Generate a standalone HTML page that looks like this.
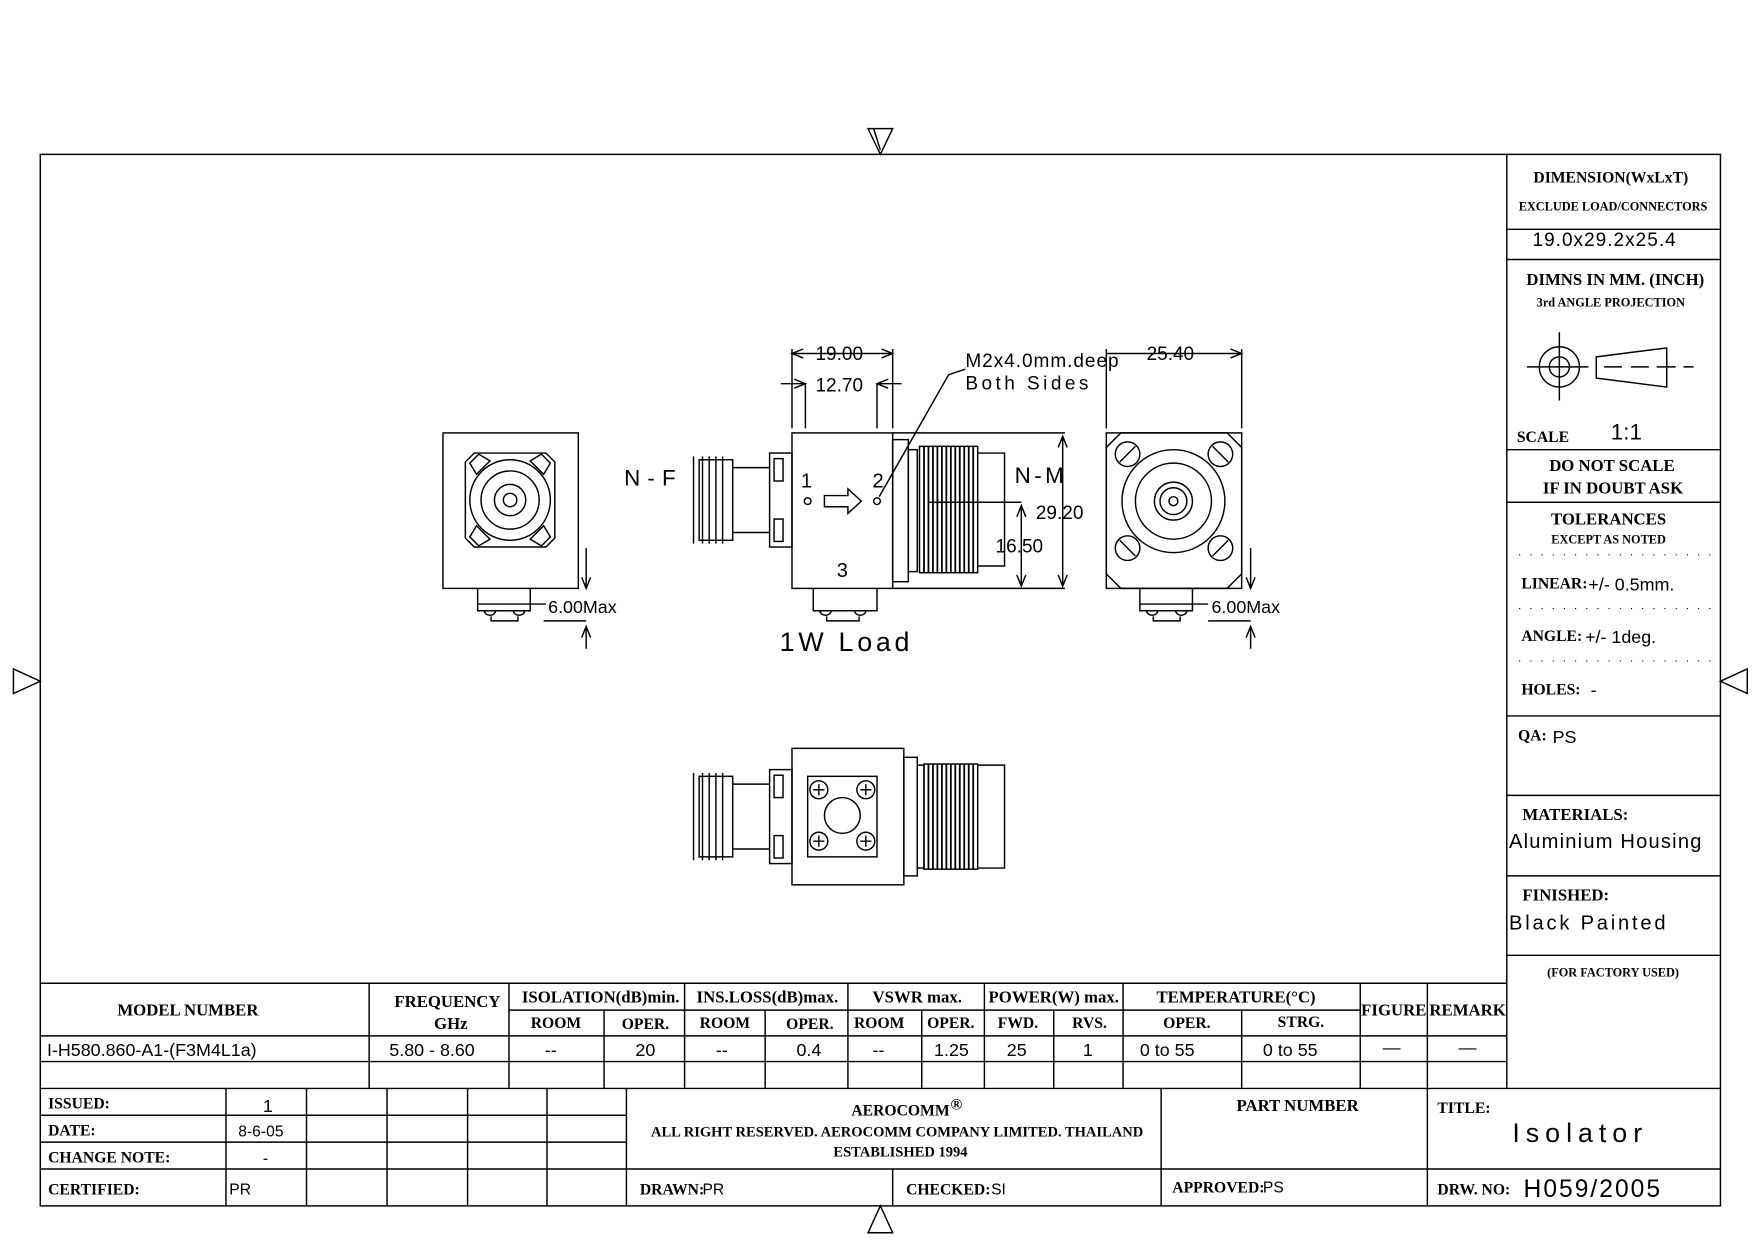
<!DOCTYPE html>
<html><head><meta charset="utf-8"><style>
html,body{margin:0;padding:0;background:#fff;}
svg{display:block;}
.s{font-family:"Liberation Serif",serif;font-weight:bold;fill:#000;}
.n{font-family:"Liberation Sans",sans-serif;fill:#000;}
</style></head><body>
<svg width="1754" height="1240" viewBox="0 0 1568 1108.5" preserveAspectRatio="none" xmlns="http://www.w3.org/2000/svg">
<g fill="none" stroke="#000" stroke-width="1.3">
<rect x="36" y="138" width="1502" height="940"/>
<path d="M776 115 L798 115 L787 138 Z M781 115 L787 134"/>
<path d="M776 1102 L798 1102 L787 1078 Z"/>
<path d="M12 598 L12 620 L36 609 Z"/>
<path d="M1562 598 L1562 620 L1538 609 Z"/>
<line x1="1347" y1="138" x2="1347" y2="973"/>
<line x1="1347" y1="205" x2="1538" y2="205"/>
<line x1="1347" y1="232" x2="1538" y2="232"/>
<line x1="1347" y1="402" x2="1538" y2="402"/>
<line x1="1347" y1="449" x2="1538" y2="449"/>
<line x1="1347" y1="640" x2="1538" y2="640"/>
<line x1="1347" y1="711" x2="1538" y2="711"/>
<line x1="1347" y1="783" x2="1538" y2="783"/>
<line x1="1347" y1="854" x2="1538" y2="854"/>
<g stroke-dasharray="1 9" stroke-width="1"><line x1="1358" y1="496" x2="1530" y2="496"/><line x1="1358" y1="544" x2="1530" y2="544"/><line x1="1358" y1="591" x2="1530" y2="591"/></g>
<circle cx="1394" cy="328" r="18"/><circle cx="1394" cy="328" r="9"/>
<path d="M1365 328 H1420 M1394 297 V358 M1388 328 H1400 M1394 322 V334"/>
<path d="M1427 319 L1490 311 L1490 346 L1427 338 Z"/>
<path d="M1434 328 H1450 M1458 328 H1474 M1481 328 H1498 M1505 328 H1514"/>
<line x1="36" y1="879" x2="1347" y2="879"/>
<line x1="455" y1="903" x2="1216" y2="903"/>
<line x1="36" y1="926" x2="1347" y2="926"/>
<line x1="36" y1="949" x2="1347" y2="949"/>
<line x1="36" y1="973" x2="1538" y2="973"/>
<path d="M330 879V973 M455 879V973 M612 879V973 M758 879V973 M880 879V973 M1004 879V973 M1216 879V973 M1276 879V973"/>
<path d="M540 903V973 M684 903V973 M824 903V973 M942 903V973 M1110 903V973"/>
<line x1="36" y1="997" x2="560" y2="997"/>
<line x1="36" y1="1021" x2="560" y2="1021"/>
<line x1="36" y1="1045" x2="1538" y2="1045"/>
<path d="M202 973V1078 M274 973V1078 M346 973V1078 M418 973V1078 M489 973V1078 M560 973V1078 M798 1045V1078 M1038 973V1078 M1276 973V1078"/>

<rect x="396" y="387" width="121" height="139"/>
<path d="M424 405 H488 L496 413 V481 L488 489 H424 L416 481 V413 Z"/>
<circle cx="456" cy="447" r="36"/><circle cx="456" cy="447" r="26"/><circle cx="456" cy="447" r="14"/><circle cx="456" cy="447" r="6"/>
<path d="M420 414 l8 -8 l10 6 l-12 12 Z M492 414 l-8 -8 l-10 6 l12 12 Z M420 480 l8 8 l10 -6 l-12 -12 Z M492 480 l-8 8 l-10 -6 l12 -12 Z"/>
<path d="M427 526 V546 H474 V526 M427 540 H488 M433 546 a5 4 0 0 0 10 0 M459 546 a5 4 0 0 0 10 0 M439 551 V555 H463 V551"/>
<path d="M524 490 V526 M520 516 L524 526 L528 516 M486 555 H524 M524 560 V580 M520 570 L524 560 L528 570"/>
<rect x="708" y="387" width="90" height="139"/>
<path d="M798 387 H952 M798 526 H952 M950 390 V524 M946 400 L950 390 L954 400 M946 514 L950 524 L954 514"/>
<path d="M830 449 H913 M913 452 V524 M909 462 L913 452 L917 462 M909 514 L913 524 L917 514"/>
<rect x="798" y="393" width="14" height="127"/><rect x="812" y="402" width="8" height="109"/>
<rect x="822" y="399" width="52" height="113"/>
<g stroke-width="1.6"><path d="M826 399V512 M830 399V512 M834 399V512 M838 399V512 M842 399V512 M846 399V512 M850 399V512 M854 399V512 M858 399V512 M862 399V512 M866 399V512 M870 399V512"/></g>
<path d="M874 405 H898 V506 H874"/>
<rect x="688" y="405" width="20" height="84"/><rect x="692" y="410" width="8" height="20"/><rect x="692" y="464" width="8" height="20"/>
<path d="M655 418 H688 M655 476 H688"/>
<rect x="625" y="411" width="30" height="72"/>
<path d="M620 408 V486 M628 408 V486 M634 408 V486 M640 408 V486 M646 408 V486"/>
<circle cx="722" cy="448" r="3"/><circle cx="784" cy="448" r="3"/>
<path d="M737 443 H758 V437 L770 448 L758 459 V453 H737 Z"/>
<path d="M727 526 V546 H784 V526 M733 546 a5 4 0 0 0 10 0 M764 546 a5 4 0 0 0 10 0 M739 551 V555 H768 V551"/>
<path d="M708 383 V312 M798 383 V312 M708 316 H798 M718 312 L708 316 L718 320 M788 312 L798 316 L788 320"/>
<path d="M720 383 V343 M784 383 V343 M698 343 H720 M784 343 H806 M710 339 L720 343 L710 347 M794 339 L784 343 L794 347"/>
<path d="M863 330 L848 335 L786 444"/>
<rect x="989" y="387" width="121" height="139"/>
<path d="M1002 387 H1097 L1110 400 V513 L1097 526 H1002 L989 513 V400 Z"/>
<circle cx="1049" cy="448" r="46"/><circle cx="1049" cy="448" r="34"/><circle cx="1049" cy="448" r="17"/><circle cx="1049" cy="448" r="12"/><circle cx="1049" cy="448" r="4"/>
<circle cx="1008" cy="406" r="11"/><circle cx="1091" cy="406" r="11"/><circle cx="1008" cy="490" r="11"/><circle cx="1091" cy="490" r="11"/>
<path d="M1001 413 L1015 399 M1084 399 L1098 413 M1001 483 L1015 497 M1084 497 L1098 483"/>
<path d="M989 383 V312 M1110 383 V312 M1002 316 H1110 M1100 312 L1110 316 L1100 320 M989 316 L1002 316"/>
<path d="M1019 526 V546 H1066 V526 M1019 540 H1080 M1025 546 a5 4 0 0 0 10 0 M1051 546 a5 4 0 0 0 10 0 M1031 551 V555 H1055 V551"/>
<path d="M1118 490 V526 M1114 516 L1118 526 L1122 516 M1080 555 H1118 M1118 560 V580 M1114 570 L1118 560 L1122 570"/>
<rect x="708" y="669" width="100" height="122"/>
<rect x="722" y="694" width="62" height="72"/>
<circle cx="753" cy="729" r="16"/>
<circle cx="732" cy="706" r="8"/><circle cx="774" cy="706" r="8"/><circle cx="732" cy="752" r="8"/><circle cx="774" cy="752" r="8"/>
<path d="M727 706 H737 M732 701 V711 M769 706 H779 M774 701 V711 M727 752 H737 M732 747 V757 M769 752 H779 M774 747 V757"/>
<rect x="808" y="677" width="12" height="106"/><rect x="820" y="684" width="6" height="92"/>
<rect x="826" y="683" width="48" height="94"/>
<g stroke-width="1.6"><path d="M830 683V777 M834 683V777 M838 683V777 M842 683V777 M846 683V777 M850 683V777 M854 683V777 M858 683V777 M862 683V777 M866 683V777 M870 683V777"/></g>
<path d="M874 684 H898 V776 H874"/>
<rect x="688" y="688" width="20" height="84"/><rect x="692" y="693" width="8" height="20"/><rect x="692" y="747" width="8" height="20"/>
<path d="M655 701 H688 M655 759 H688"/>
<rect x="625" y="694" width="30" height="72"/>
<path d="M620 691 V769 M628 691 V769 M634 691 V769 M640 691 V769 M646 691 V769"/>
</g>

<g class="n">
<text x="558" y="434" font-size="20" textLength="46">N-F</text>
<text x="907" y="432" font-size="20" textLength="44">N-M</text>
<text x="716" y="436" font-size="18">1</text>
<text x="780" y="436" font-size="18">2</text>
<text x="748" y="516" font-size="18">3</text>
<text x="926" y="464" font-size="17">29.20</text>
<text x="890" y="494" font-size="17">16.50</text>
<text x="729" y="322" font-size="17">19.00</text>
<text x="729" y="350" font-size="17">12.70</text>
<text x="1025" y="322" font-size="17">25.40</text>
<text x="863" y="328" font-size="17" textLength="137">M2x4.0mm.deep</text>
<text x="863" y="348" font-size="17" textLength="110">Both Sides</text>
<text x="490" y="548" font-size="16">6.00Max</text>
<text x="1083" y="548" font-size="16">6.00Max</text>
<text x="697" y="582" font-size="24" textLength="116">1W Load</text>
<text x="1370" y="220" font-size="17" textLength="128">19.0x29.2x25.4</text>
<text x="1440" y="393" font-size="20">1:1</text>
<text x="1420" y="528" font-size="16">+/-  0.5mm.</text>
<text x="1417" y="575" font-size="16">+/-  1deg.</text>
<text x="1422" y="622" font-size="16">-</text>
<text x="1388" y="664" font-size="16">PS</text>
<text x="1349" y="758" font-size="18" textLength="172">Aluminium Housing</text>
<text x="1349" y="831" font-size="18" textLength="140">Black Painted</text>
<text x="42" y="944" font-size="16">I-H580.860-A1-(F3M4L1a)</text>
<text x="348" y="944" font-size="16">5.80 - 8.60</text>
<text x="487" y="944" font-size="16">--</text>
<text x="568" y="944" font-size="16">20</text>
<text x="640" y="944" font-size="16">--</text>
<text x="712" y="944" font-size="16">0.4</text>
<text x="780" y="944" font-size="16">--</text>
<text x="835" y="944" font-size="16">1.25</text>
<text x="900" y="944" font-size="16">25</text>
<text x="968" y="944" font-size="16">1</text>
<text x="1019" y="944" font-size="16">0 to 55</text>
<text x="1129" y="944" font-size="16">0 to 55</text>
<text x="1236" y="942" font-size="16">—</text>
<text x="1304" y="942" font-size="16">—</text>
<text x="235" y="994" font-size="16">1</text>
<text x="213" y="1016" font-size="14">8-6-05</text>
<text x="235" y="1040" font-size="14">-</text>
<text x="205" y="1068" font-size="14">PR</text>
<text x="628" y="1068" font-size="14">PR</text>
<text x="886" y="1068" font-size="14">SI</text>
<text x="1129" y="1066" font-size="14">PS</text>
<text x="1352" y="1021" font-size="24" textLength="116">Isolator</text>
<text x="1362" y="1070" font-size="22" textLength="122">H059/2005</text>
</g>

<g class="s">
<text x="1440" y="163" font-size="14" text-anchor="middle">DIMENSION(WxLxT)</text>
<text x="1442" y="188" font-size="11" text-anchor="middle">EXCLUDE LOAD/CONNECTORS</text>
<text x="1444" y="255" font-size="15" text-anchor="middle">DIMNS  IN  MM.  (INCH)</text>
<text x="1440" y="274" font-size="11" text-anchor="middle">3rd  ANGLE  PROJECTION</text>
<text x="1356" y="395" font-size="14">SCALE</text>
<text x="1441" y="421" font-size="15" text-anchor="middle">DO  NOT  SCALE</text>
<text x="1442" y="441" font-size="15" text-anchor="middle">IF  IN  DOUBT  ASK</text>
<text x="1438" y="469" font-size="15" text-anchor="middle">TOLERANCES</text>
<text x="1438" y="486" font-size="11" text-anchor="middle">EXCEPT  AS  NOTED</text>
<text x="1360" y="526" font-size="14">LINEAR:</text>
<text x="1360" y="573" font-size="14">ANGLE:</text>
<text x="1360" y="621" font-size="14">HOLES:</text>
<text x="1357" y="662" font-size="14">QA:</text>
<text x="1361" y="733" font-size="15">MATERIALS:</text>
<text x="1361" y="805" font-size="15">FINISHED:</text>
<text x="1442" y="873" font-size="11" text-anchor="middle">(FOR  FACTORY  USED)</text>
<text x="168" y="908" font-size="15" text-anchor="middle">MODEL  NUMBER</text>
<text x="400" y="900" font-size="15" text-anchor="middle">FREQUENCY</text>
<text x="403" y="920" font-size="15" text-anchor="middle">GHz</text>
<text x="537" y="896" font-size="15" text-anchor="middle">ISOLATION(dB)min.</text>
<text x="686" y="896" font-size="15" text-anchor="middle">INS.LOSS(dB)max.</text>
<text x="820" y="896" font-size="15" text-anchor="middle">VSWR  max.</text>
<text x="942" y="896" font-size="15" text-anchor="middle">POWER(W)  max.</text>
<text x="1105" y="896" font-size="15" text-anchor="middle">TEMPERATURE(°C)</text>
<text x="1246" y="908" font-size="15" text-anchor="middle">FIGURE</text>
<text x="1312" y="908" font-size="15" text-anchor="middle">REMARK</text>
<text x="497" y="919" font-size="14" text-anchor="middle">ROOM</text>
<text x="577" y="920" font-size="14" text-anchor="middle">OPER.</text>
<text x="648" y="919" font-size="14" text-anchor="middle">ROOM</text>
<text x="724" y="920" font-size="14" text-anchor="middle">OPER.</text>
<text x="786" y="919" font-size="14" text-anchor="middle">ROOM</text>
<text x="850" y="919" font-size="14" text-anchor="middle">OPER.</text>
<text x="910" y="919" font-size="14" text-anchor="middle">FWD.</text>
<text x="974" y="919" font-size="14" text-anchor="middle">RVS.</text>
<text x="1061" y="919" font-size="14" text-anchor="middle">OPER.</text>
<text x="1163" y="918" font-size="14" text-anchor="middle">STRG.</text>
<text x="43" y="991" font-size="14">ISSUED:</text>
<text x="43" y="1015" font-size="14">DATE:</text>
<text x="43" y="1039" font-size="14">CHANGE  NOTE:</text>
<text x="43" y="1068" font-size="14">CERTIFIED:</text>
<text x="805" y="997" font-size="14" text-anchor="middle">AEROCOMM</text>
<text x="855" y="992" font-size="14" text-anchor="middle">®</text>
<text x="802" y="1016" font-size="13" text-anchor="middle">ALL  RIGHT  RESERVED.  AEROCOMM  COMPANY  LIMITED.  THAILAND</text>
<text x="805" y="1034" font-size="13" text-anchor="middle">ESTABLISHED  1994</text>
<text x="1160" y="993" font-size="15" text-anchor="middle">PART  NUMBER</text>
<text x="1285" y="995" font-size="14">TITLE:</text>
<text x="572" y="1068" font-size="14">DRAWN:</text>
<text x="810" y="1068" font-size="14">CHECKED:</text>
<text x="1048" y="1066" font-size="14">APPROVED:</text>
<text x="1285" y="1068" font-size="14">DRW.  NO:</text>
</g>
</svg>
</body></html>
